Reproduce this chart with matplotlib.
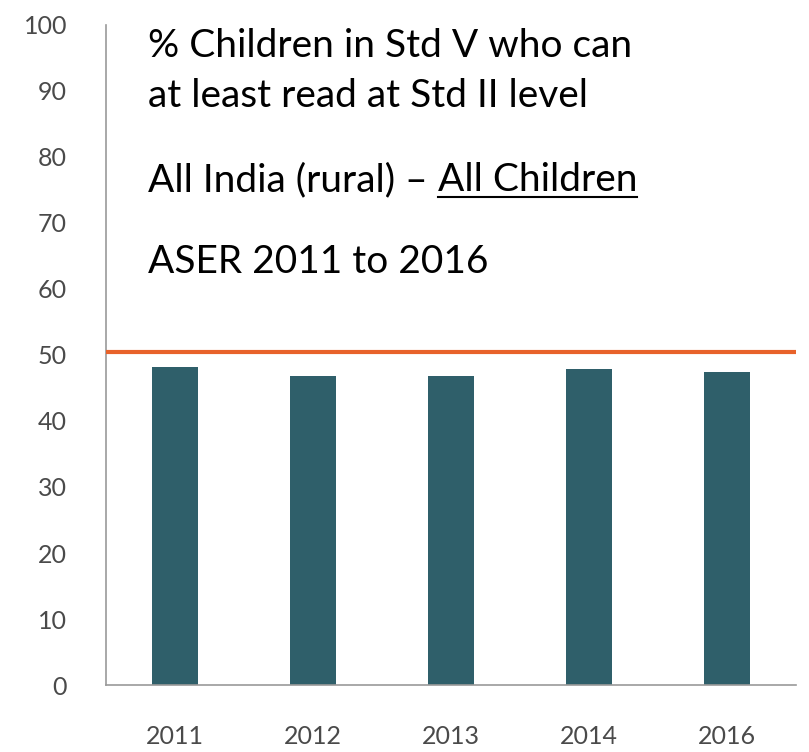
import matplotlib
matplotlib.use("Agg")
import matplotlib.pyplot as plt
from matplotlib.lines import Line2D

years = ['2011', '2012', '2013', '2014', '2016']
pct_read = [48.2, 46.8, 46.8, 47.9, 47.4]
ref_level = 50.5
y_ticks = list(range(0, 101, 10))

plt.rcParams['font.family'] = ['Lato', 'DejaVu Sans']

fig = plt.figure(figsize=(8.09, 7.52), dpi=100)
ax = fig.add_axes([0.131, 0.089, 0.853, 0.878])

x = range(len(years))
ax.bar(x, pct_read, width=0.33, color='#2F5F6A', zorder=2)
ax.axhline(ref_level, color='#E8622A', linewidth=3, zorder=3)

ax.set_xlim(-0.5, len(years) - 0.5)
ax.set_ylim(0, 100)
ax.set_xticks(list(x))
ax.set_xticklabels(years)
ax.set_yticks(y_ticks)
ax.tick_params(axis='both', length=0, labelsize=18, labelcolor='#4a4a4a')
ax.tick_params(axis='x', pad=29)
ax.tick_params(axis='y', pad=28)
for s in ['top', 'right']:
    ax.spines[s].set_visible(False)
for s in ['left', 'bottom']:
    ax.spines[s].set_color('#9a9a9a')
    ax.spines[s].set_linewidth(1.2)

# heading text block
fs = 28
fig.text(0.183, 0.924, '% Children in Std V who can', fontsize=fs, color='black')
fig.text(0.183, 0.858, 'at least read at Std II level', fontsize=fs, color='black')
t1 = fig.text(0.183, 0.746, 'All India (rural) \u2013 ', fontsize=fs, color='black')
fig.text(0.183, 0.637, 'ASER 2011 to 2016', fontsize=fs, color='black')

fig.canvas.draw()
bb = t1.get_window_extent().transformed(fig.transFigure.inverted())
t2 = fig.text(bb.x1, 0.746, 'All Children', fontsize=fs, color='black')
fig.canvas.draw()
bb2 = t2.get_window_extent().transformed(fig.transFigure.inverted())
fig.add_artist(Line2D([bb2.x0, bb2.x1], [0.738, 0.738], color='black',
                      linewidth=1.5, transform=fig.transFigure))

fig.savefig('out.png', dpi=100)
